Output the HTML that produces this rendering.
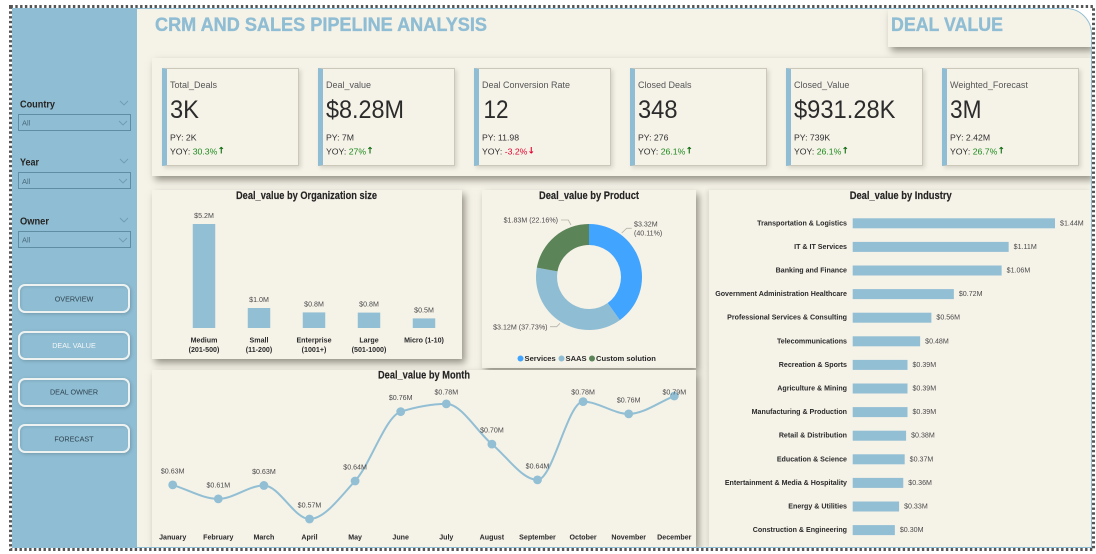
<!DOCTYPE html>
<html lang="en">
<head>
<meta charset="utf-8">
<title>CRM and Sales Pipeline Analysis - Deal Value</title>
<style>
html,body{margin:0;padding:0;background:#fff;}
body{width:1096px;height:554px;position:relative;overflow:hidden;font-family:"Liberation Sans",sans-serif;}
.abs{position:absolute;box-sizing:border-box;}
#sidebar{left:12px;top:8px;width:125px;height:540px;background:#8fbdd3;}
#main{left:12px;top:8px;width:1080px;height:540px;background:#f5f2e8;border-radius:0 26px 0 0;border:1px solid #8fbdd3;}
#clip{left:0;top:0;width:1096px;height:554px;clip-path:inset(9px 5px 7px 137px round 0 25px 0 0);}
.panel{background:#f5f2e8;box-shadow:3px 4px 7px rgba(70,68,55,.55);}
.card{background:#f5f2e8;border:1px solid #cbc8b9;border-left:5px solid #8fbdd3;box-shadow:2px 2px 4px rgba(90,90,75,.2);width:137px;height:98px;top:68px;}
.slicer{left:18px;width:113px;height:17px;border:1.5px solid #5f8ea3;}
.nav{left:18px;width:112px;height:29px;border:2px solid #eef3f1;border-radius:7px;box-shadow:1px 1px 3px rgba(50,70,80,.3),inset 1px 1px 2px rgba(50,70,80,.15);cursor:pointer;}
svg{position:absolute;left:0;top:0;}
text{font-family:"Liberation Sans",sans-serif;dominant-baseline:central;}
.kl{font-size:9px;fill:#555;}
.kv{font-size:25px;fill:#2b2b2b;}
.ks{font-size:8.7px;fill:#2f2f2f;}
.up{fill:#1d8a1d;}
.dn{fill:#e3002b;}
.ua{fill:#0a6b0a;font-weight:bold;font-size:9px;font-family:"DejaVu Sans",sans-serif;}
.da{fill:#e3002b;font-weight:bold;font-size:9px;font-family:"DejaVu Sans",sans-serif;}
.ct{font-size:11px;font-weight:bold;fill:#252423;text-anchor:middle;stroke:#252423;stroke-width:.15;}
.sl{font-size:10.5px;font-weight:bold;fill:#252423;}
.nt{font-size:7.2px;fill:#2f4450;text-anchor:middle;}
.dl{font-size:7.1px;fill:#4a4a4a;}
.cat{font-size:7.1px;font-weight:bold;fill:#2a2a2a;}
</style>
</head>
<body>
<div class="abs" id="main"></div>

<div class="abs" id="clip">
<div class="abs panel" style="left:888px;top:9px;width:203px;height:38px;"></div>
<div class="abs panel" style="left:152px;top:58px;width:939px;height:118px;"></div>

<div class="abs card" style="left:162px"></div>
<div class="abs card" style="left:318px"></div>
<div class="abs card" style="left:474px"></div>
<div class="abs card" style="left:630px"></div>
<div class="abs card" style="left:786px"></div>
<div class="abs card" style="left:942px"></div>

<div class="abs" style="left:709px;top:190px;width:382px;height:357px;background:#f5f2e8;box-shadow:-2px 0 4px rgba(70,68,55,.14);"></div>
<div class="abs panel" style="left:152px;top:190px;width:310px;height:169px;"></div>
<div class="abs panel" style="left:482px;top:190px;width:214px;height:178px;"></div>
<div class="abs panel" style="left:152px;top:370px;width:544px;height:177px;"></div>
</div>

<div class="abs" id="sidebar"></div>

<div class="abs slicer" style="top:114px"></div>
<div class="abs slicer" style="top:172px"></div>
<div class="abs slicer" style="top:231px"></div>

<div class="abs nav" style="top:284px"></div>
<div class="abs nav" style="top:331px"></div>
<div class="abs nav" style="top:378px"></div>
<div class="abs nav" style="top:424px"></div>

<svg id="canvas" width="1096" height="554" viewBox="0 0 1096 554">
  <rect x="10.5" y="6.5" width="1083" height="543" fill="none" stroke="#555" stroke-width="3" stroke-dasharray="2.4 2.4"/>

  <text x="155" y="25.5" font-size="19" font-weight="bold" fill="#8fbdd3" stroke="#8fbdd3" stroke-width="0.35" textLength="332" lengthAdjust="spacingAndGlyphs">CRM AND SALES PIPELINE ANALYSIS</text>
  <text x="891" y="25.5" font-size="19" font-weight="bold" fill="#8fbdd3" stroke="#8fbdd3" stroke-width="0.35" textLength="112" lengthAdjust="spacingAndGlyphs">DEAL VALUE</text>

  <!-- slicers -->
  <text class="sl" x="20" y="104.5" textLength="35" lengthAdjust="spacingAndGlyphs">Country</text>
  <text class="sl" x="20" y="162.5" textLength="19" lengthAdjust="spacingAndGlyphs">Year</text>
  <text class="sl" x="20" y="221.5" textLength="29" lengthAdjust="spacingAndGlyphs">Owner</text>
  <g fill="none" stroke="#6f9cb2" stroke-width="0.9">
    <polyline points="120,101 124,105 128,101"/>
    <polyline points="120,159 124,163 128,159"/>
    <polyline points="120,218 124,222 128,218"/>
    <polyline points="119,121 123,125 127,121"/>
    <polyline points="119,179 123,183 127,179"/>
    <polyline points="119,238 123,242 127,238"/>
  </g>
  <text x="22" y="123" font-size="7.5" fill="#4a6b7c">All</text>
  <text x="22" y="181.5" font-size="7.5" fill="#4a6b7c">All</text>
  <text x="22" y="240" font-size="7.5" fill="#4a6b7c">All</text>

  <!-- nav -->
  <text class="nt" x="74" y="299">OVERVIEW</text>
  <text class="nt" x="74" y="345.5" style="fill:#f4f7f7">DEAL VALUE</text>
  <text class="nt" x="74" y="392">DEAL OWNER</text>
  <text class="nt" x="74" y="439">FORECAST</text>

  <!-- KPI 1 -->
  <g>
    <text class="kl" x="170" y="85">Total_Deals</text>
    <text class="kv" x="170" y="110" textLength="29" lengthAdjust="spacingAndGlyphs">3K</text>
    <text class="ks" x="170" y="137.5">PY: 2K</text>
    <text class="ks" x="170" y="151.5">YOY: <tspan class="up">30.3%</tspan><tspan class="ua">↑</tspan></text>
  </g>
  <!-- KPI 2 -->
  <g>
    <text class="kl" x="326" y="85">Deal_value</text>
    <text class="kv" x="326" y="110" textLength="78" lengthAdjust="spacingAndGlyphs">$8.28M</text>
    <text class="ks" x="326" y="137.5">PY: 7M</text>
    <text class="ks" x="326" y="151.5">YOY: <tspan class="up">27%</tspan><tspan class="ua">↑</tspan></text>
  </g>
  <!-- KPI 3 -->
  <g>
    <text class="kl" x="482" y="85">Deal Conversion Rate</text>
    <text class="kv" x="483.5" y="110" textLength="25" lengthAdjust="spacingAndGlyphs">12</text>
    <text class="ks" x="482" y="137.5">PY: 11.98</text>
    <text class="ks" x="482" y="151.5">YOY: <tspan class="dn">-3.2%</tspan><tspan class="da">↓</tspan></text>
  </g>
  <!-- KPI 4 -->
  <g>
    <text class="kl" x="638" y="85">Closed Deals</text>
    <text class="kv" x="638" y="110" textLength="39.5" lengthAdjust="spacingAndGlyphs">348</text>
    <text class="ks" x="638" y="137.5">PY: 276</text>
    <text class="ks" x="638" y="151.5">YOY: <tspan class="up">26.1%</tspan><tspan class="ua">↑</tspan></text>
  </g>
  <!-- KPI 5 -->
  <g>
    <text class="kl" x="794" y="85">Closed_Value</text>
    <text class="kv" x="794" y="110" textLength="101.5" lengthAdjust="spacingAndGlyphs">$931.28K</text>
    <text class="ks" x="794" y="137.5">PY: 739K</text>
    <text class="ks" x="794" y="151.5">YOY: <tspan class="up">26.1%</tspan><tspan class="ua">↑</tspan></text>
  </g>
  <!-- KPI 6 -->
  <g>
    <text class="kl" x="950" y="85">Weighted_Forecast</text>
    <text class="kv" x="950" y="110" textLength="31.5" lengthAdjust="spacingAndGlyphs">3M</text>
    <text class="ks" x="950" y="137.5">PY: 2.42M</text>
    <text class="ks" x="950" y="151.5">YOY: <tspan class="up">26.7%</tspan><tspan class="ua">↑</tspan></text>
  </g>

  <!-- chart titles -->
  <text class="ct" x="306.5" y="196" textLength="141" lengthAdjust="spacingAndGlyphs">Deal_value by Organization size</text>
  <text class="ct" x="589" y="196" textLength="100" lengthAdjust="spacingAndGlyphs">Deal_value by Product</text>
  <text class="ct" x="424" y="375.5" textLength="92" lengthAdjust="spacingAndGlyphs">Deal_value by Month</text>
  <text class="ct" x="900.7" y="196" textLength="102" lengthAdjust="spacingAndGlyphs">Deal_value by Industry</text>

  <g id="org-chart"></g>
  <g id="product-chart"></g>
  <g id="month-chart"></g>
  <g id="industry-chart"></g>
</svg>

<script>
const orgCategories = [["Medium","(201-500)"],["Small","(11-200)"],["Enterprise","(1001+)"],["Large","(501-1000)"],["Micro (1-10)"]];
const orgValues = [5.2, 1.0, 0.78, 0.77, 0.48];

const productNames = ["Services", "SAAS", "Custom solution"];
const productValues = [3.32, 3.12, 1.83];
const productShares = [40.11, 37.73, 22.16];

const monthNames = ["January","February","March","April","May","June","July","August","September","October","November","December"];
const monthValues = [0.631, 0.606, 0.630, 0.570, 0.638, 0.762, 0.776, 0.704, 0.640, 0.780, 0.758, 0.790];

const industryNames = ["Transportation & Logistics","IT & IT Services","Banking and Finance","Government Administration Healthcare","Professional Services & Consulting","Telecommunications","Recreation & Sports","Agriculture & Mining","Manufacturing & Production","Retail & Distribution","Education & Science","Entertainment & Media & Hospitality","Energy & Utilities","Construction & Engineering"];
const industryValues = [1.44, 1.11, 1.06, 0.72, 0.56, 0.48, 0.39, 0.39, 0.39, 0.38, 0.37, 0.36, 0.33, 0.30];

const SVGNS = "http://www.w3.org/2000/svg";
const BLUE = "#92bfd4";

function make(parent, tag, attrs, content) {
  const el = document.createElementNS(SVGNS, tag);
  for (const k in attrs) el.setAttribute(k, attrs[k]);
  if (content !== undefined) el.textContent = content;
  parent.appendChild(el);
  return el;
}

/* ---------- organization bars ---------- */
(function () {
  const g = document.getElementById("org-chart");
  const orgX = i => 204 + 55 * i;
  const orgY = v => 328 - v * 20;
  orgValues.forEach((v, i) => {
    const bar = make(g, "rect", {x: orgX(i) - 11.25, y: orgY(v), width: 22.5, height: orgY(0) - orgY(v), fill: BLUE});
    
    
    const lab = make(g, "text", {class: "dl", x: orgX(i), y: orgY(v) - 8, "text-anchor": "middle"}, "$" + v.toFixed(1) + "M");
    
    
    orgCategories[i].forEach((line, j) => {
      const c = make(g, "text", {class: "cat", x: orgX(i), y: 340.5 + j * 9.5, "text-anchor": "middle"}, line);
      
      
    });
  });
})();

/* ---------- product donut ---------- */
(function () {
  const g = document.getElementById("product-chart");
  const colors = ["#41a4ff", "#8fbdd3", "#5b8459"];
  const cx = 589, cy = 277, R = 53, r = 32;
  const total = productShares.reduce((a, b) => a + b, 0);
  const pt = (rad, a) => [cx + rad * Math.sin(a), cy - rad * Math.cos(a)];
  let start = 0;
  productShares.forEach((s, i) => {
    const end = start + s / total * Math.PI * 2;
    const large = end - start > Math.PI ? 1 : 0;
    const p1 = pt(R, start), p2 = pt(R, end), p3 = pt(r, end), p4 = pt(r, start);
    const d = `M${p1[0]} ${p1[1]}A${R} ${R} 0 ${large} 1 ${p2[0]} ${p2[1]}L${p3[0]} ${p3[1]}A${r} ${r} 0 ${large} 0 ${p4[0]} ${p4[1]}Z`;
    const slice = make(g, "path", {d: d, fill: colors[i]});
    
    
    start = end;
  });
  const money = i => "$" + productValues[i].toFixed(2) + "M";
  const share = i => "(" + productShares[i].toFixed(2) + "%)";

  const l0a = make(g, "text", {class: "dl", x: 634, y: 224.5}, money(0));
  
  
  const l0b = make(g, "text", {class: "dl", x: 634, y: 233.5}, share(0));
  
  
  const l1 = make(g, "text", {class: "dl", x: 547.5, y: 327.5, "text-anchor": "end"}, money(1) + " " + share(1));
  
  
  const l2 = make(g, "text", {class: "dl", x: 558, y: 220.5, "text-anchor": "end"}, money(2) + " " + share(2));
  
  

  const lead = {fill: "none", stroke: "#b5b3a8", "stroke-width": 0.8};
  const a = make(g, "polyline", Object.assign({points: "621.7,233 626.7,228.3 631.7,228.3"}, lead));
  
  
  const b = make(g, "polyline", Object.assign({points: "550,326.7 556.7,326.7 560,323.3"}, lead));
  
  
  const c = make(g, "polyline", Object.assign({points: "561,220 568.3,220 571,225"}, lead));
  
  

  const legendX = [517.5, 558.5, 589];
  productNames.forEach((n, i) => {
    const dot = make(g, "circle", {cx: legendX[i] + 3, cy: 358.5, r: 3, fill: colors[i]});
    
    
    const t = make(g, "text", {x: legendX[i] + 7, y: 358.5, "font-size": 7.6, "font-weight": "bold", fill: "#2a2a2a"}, n);
    
    
  });
})();

/* ---------- month line ---------- */
(function () {
  const g = document.getElementById("month-chart");
  const x = i => 172.7 + 45.6 * i;
  const y = v => 519 - (v - 0.57) * 559;
  const pts = monthValues.map((v, i) => [x(i), y(v)]);
  const n = pts.length;
  const slope = [];
  for (let i = 0; i < n - 1; i++) slope.push((pts[i + 1][1] - pts[i][1]) / (pts[i + 1][0] - pts[i][0]));
  const tan = [slope[0]];
  for (let i = 1; i < n - 1; i++) {
    tan.push(slope[i - 1] * slope[i] <= 0 ? 0 : 2 * slope[i - 1] * slope[i] / (slope[i - 1] + slope[i]));
  }
  tan.push(slope[n - 2]);
  let d = `M${pts[0][0]} ${pts[0][1]}`;
  for (let i = 0; i < n - 1; i++) {
    const h = (pts[i + 1][0] - pts[i][0]) / 3;
    d += `C${pts[i][0] + h} ${pts[i][1] + tan[i] * h} ${pts[i + 1][0] - h} ${pts[i + 1][1] - tan[i + 1] * h} ${pts[i + 1][0]} ${pts[i + 1][1]}`;
  }
  const line = make(g, "path", {d: d, fill: "none", stroke: BLUE, "stroke-width": 2});
  
  
  monthValues.forEach((v, i) => {
    const p = make(g, "circle", {cx: x(i), cy: y(v), r: 4.4, fill: BLUE});
    
    
    const lab = make(g, "text", {class: "dl", x: x(i), y: Math.max(392.5, y(v) - 13.5), "text-anchor": "middle"}, "$" + v.toFixed(2) + "M");
    
    
    const c = make(g, "text", {class: "cat", x: x(i), y: 537.7, "text-anchor": "middle"}, monthNames[i]);
    
    
  });
})();

/* ---------- industry bars ---------- */
(function () {
  const g = document.getElementById("industry-chart");
  const bx = v => 852.7 + v * 140.5;
  const by = i => 223.3 + 23.6 * i;
  industryValues.forEach((v, i) => {
    const bar = make(g, "rect", {x: bx(0), y: by(i) - 5, width: bx(v) - bx(0), height: 10, fill: BLUE});
    
    
    const lab = make(g, "text", {class: "dl", x: bx(v) + 5, y: by(i)}, "$" + v.toFixed(2) + "M");
    
    
    const c = make(g, "text", {class: "cat", x: 847, y: by(i), "text-anchor": "end"}, industryNames[i]);
    
    
  });
})();
</script>
</body>
</html>
